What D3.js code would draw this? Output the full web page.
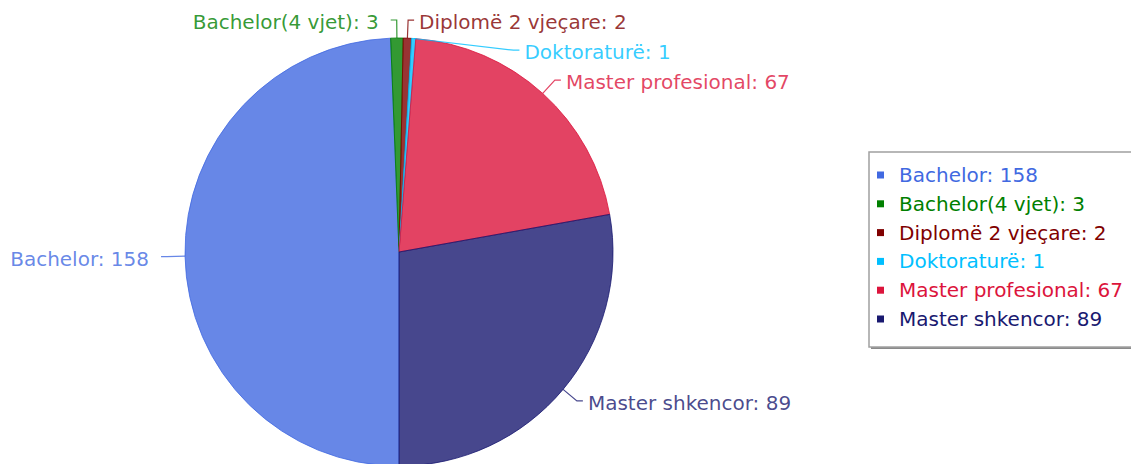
<!DOCTYPE html>
<html>
<head>
<meta charset="utf-8">
<script src="https://cdn.jsdelivr.net/npm/d3@7"></script>
<style>
  html, body { margin: 0; padding: 0; background: #fff; }
  svg { display: block; font-family: "DejaVu Sans", Verdana, sans-serif; }
</style>
</head>
<body>
<svg id="chart" width="1131" height="464"></svg>
<script>
const categories = ["Bachelor", "Bachelor(4 vjet)", "Diplomë 2 vjeçare", "Doktoraturë", "Master profesional", "Master shkencor"];
const values = [158, 3, 2, 1, 67, 89];
const colors = ["#4169e1", "#008000", "#800000", "#00bfff", "#dc143c", "#191970"];

const W = 1131, H = 464;
const cx = 399, cy = 252, R = 214;
const labelR = R + 18;
const fontSize = 20;

const svg = d3.select("#chart");
const data = categories.map((c, i) => ({ name: c, value: values[i], color: colors[i] }));

const pie = d3.pie().value(d => d.value).sort(null)
  .startAngle(Math.PI).endAngle(3 * Math.PI);
const arcs = pie(data);
const arcGen = d3.arc().innerRadius(0).outerRadius(R);

const g = svg.append("g").attr("transform", `translate(${cx},${cy})`);

g.selectAll("path.slice").data(arcs).enter().append("path")
  .attr("class", "slice")
  .attr("d", arcGen)
  .attr("fill", d => d.data.color)
  .attr("fill-opacity", 0.8)
  .attr("stroke", d => d.data.color)
  .attr("stroke-opacity", 0.8)
  .attr("stroke-width", 1);

// label layout
const labels = arcs.map(a => {
  const mid = (a.startAngle + a.endAngle) / 2;
  const side = Math.sin(mid) >= 0 ? 1 : -1;
  return {
    a, mid, side,
    px: Math.sin(mid) * R, py: -Math.cos(mid) * R,
    y: -Math.cos(mid) * labelR
  };
});
[1, -1].forEach(s => {
  const grp = labels.filter(l => l.side === s).sort((p, q) => p.y - q.y);
  let prev = -Infinity;
  grp.forEach(l => {
    if (l.y < prev + 30) l.y = prev + 30;
    prev = l.y;
  });
});
labels.forEach(l => {
  const yy = Math.max(-labelR, Math.min(labelR, l.y));
  l.x = l.side * Math.sqrt(labelR * labelR - yy * yy);
});

const ext = 6;
const gapR = 5, gapL = 12;
g.selectAll("path.leader").data(labels).enter().append("path")
  .attr("class", "leader")
  .attr("d", l => `M${l.px},${l.py}L${l.x},${l.y}L${l.x + l.side * ext},${l.y}`)
  .attr("fill", "none")
  .attr("stroke", l => l.a.data.color)
  .attr("stroke-opacity", 0.8)
  .attr("stroke-width", 1.2);

g.selectAll("text.lbl").data(labels).enter().append("text")
  .attr("class", "lbl")
  .attr("x", l => l.x + l.side * (ext + (l.side > 0 ? gapR : gapL)))
  .attr("y", l => l.y)
  .attr("dy", "0.45em")
  .attr("text-anchor", l => l.side > 0 ? "start" : "end")
  .attr("font-size", fontSize)
  .attr("fill", l => l.a.data.color)
  .attr("fill-opacity", 0.8)
  .text(l => `${l.a.data.name}: ${l.a.data.value}`);

// legend
const lx = 869, ly = 152, lw = 300, lh = 195;
const leg = svg.append("g");
leg.append("rect").attr("x", lx + 2).attr("y", ly + 2).attr("width", lw).attr("height", lh)
  .attr("fill", "#8a8a8a");
leg.append("rect").attr("x", lx).attr("y", ly).attr("width", lw).attr("height", lh)
  .attr("fill", "#fff").attr("stroke", "#a0a0a0").attr("stroke-width", 1.5);

const rowY = d3.scaleLinear().domain([0, 1]).range([175, 175 + 28.8]);
const items = leg.selectAll("g.item").data(data).enter().append("g")
  .attr("class", "item")
  .attr("transform", (d, i) => `translate(0,${rowY(i)})`);
items.append("rect")
  .attr("x", 877).attr("y", -3.5).attr("width", 7).attr("height", 7)
  .attr("fill", d => d.color);
items.append("text")
  .attr("x", 899).attr("y", 0).attr("dy", "0.35em")
  .attr("font-size", fontSize)
  .attr("fill", d => d.color)
  .text(d => `${d.name}: ${d.value}`);
</script>
</body>
</html>
